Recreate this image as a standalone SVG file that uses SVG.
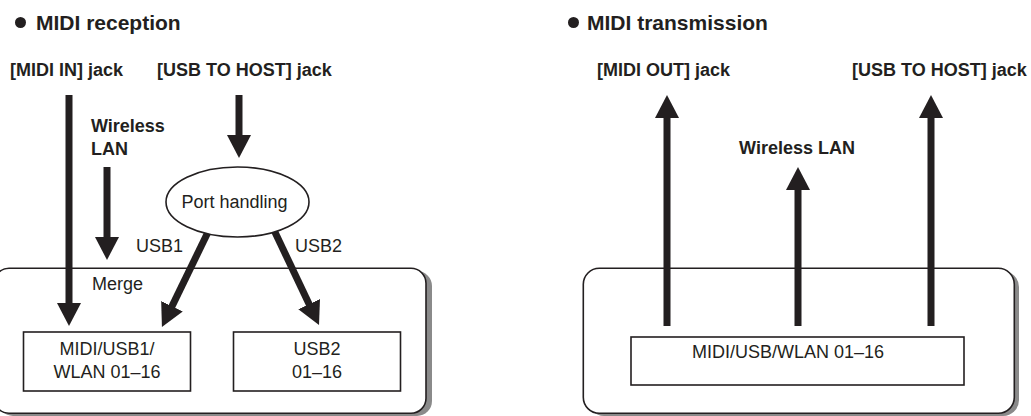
<svg xmlns="http://www.w3.org/2000/svg" width="1031" height="416" viewBox="0 0 1031 416">
<style>
  text { font-family: "Liberation Sans", Arial, sans-serif; fill: #231f20; }
  .title { font-size: 21px; font-weight: bold; }
  .lbl { font-size: 18px; font-weight: bold; }
  .reg { font-size: 18px; }
  .box { fill: #ffffff; stroke: #231f20; stroke-width: 1.6; }
  .shadow { fill: #8a8a8a; stroke: none; }
  .arrow { stroke: #231f20; stroke-width: 7; fill: none; marker-end: url(#head); }
</style>
<defs>
  <marker id="head" markerUnits="userSpaceOnUse" viewBox="0 -12 23 24" markerWidth="23" markerHeight="24" refX="2" refY="0" orient="auto">
    <path d="M0,-12 L23,0 L0,12 z" fill="#231f20"/>
  </marker>
</defs>

<g id="titles">
  <circle cx="20.5" cy="22.5" r="5.5" fill="#231f20"/>
  <text class="title" x="36" y="29.5">MIDI reception</text>
  <circle cx="573.5" cy="22.5" r="5.5" fill="#231f20"/>
  <text class="title" x="587" y="29.5">MIDI transmission</text>
</g>

<g id="reception-frame">
  <rect class="shadow" x="-2" y="271" width="434" height="145" rx="15"/>
  <rect class="box" x="-6" y="268.3" width="432" height="145" rx="15"/>
</g>
<g id="transmission-frame">
  <rect class="shadow" x="588" y="271" width="431" height="145" rx="16"/>
  <rect class="box" x="583.3" y="268.3" width="431" height="145" rx="16"/>
</g>

<g id="labels">
  <text class="lbl" x="10" y="76">[MIDI IN] jack</text>
  <text class="lbl" x="157" y="76">[USB TO HOST] jack</text>
  <text class="lbl" x="91" y="132">Wireless</text>
  <text class="lbl" x="91" y="155">LAN</text>
  <text class="reg" x="136" y="252">USB1</text>
  <text class="reg" x="295" y="252">USB2</text>
  <text class="reg" x="92" y="290">Merge</text>
  <text class="lbl" x="597" y="76">[MIDI OUT] jack</text>
  <text class="lbl" x="852" y="76">[USB TO HOST] jack</text>
  <text class="lbl" x="797" y="154" text-anchor="middle">Wireless LAN</text>
</g>

<g id="connectors">
  <line class="arrow" x1="69" y1="95" x2="69" y2="305"/>
  <line class="arrow" x1="107" y1="167" x2="107" y2="239"/>
  <line class="arrow" x1="239" y1="95" x2="239" y2="137"/>
  <line class="arrow" x1="210" y1="228" x2="171.1" y2="308.1"/>
  <line class="arrow" x1="273" y1="228" x2="310" y2="306"/>
  <line class="arrow" x1="667" y1="326" x2="667" y2="116"/>
  <line class="arrow" x1="798" y1="326" x2="798" y2="188"/>
  <line class="arrow" x1="931" y1="326" x2="931" y2="116"/>
</g>

<g id="port-handling">
  <ellipse class="box" cx="237.5" cy="202" rx="71.5" ry="35"/>
  <text class="reg" x="234.5" y="208" text-anchor="middle">Port handling</text>
</g>

<g id="midi-usb1-wlan">
  <rect class="box" x="23.5" y="332" width="167" height="59"/>
  <text class="reg" x="107" y="355" text-anchor="middle">MIDI/USB1/</text>
  <text class="reg" x="107" y="378" text-anchor="middle">WLAN 01–16</text>
</g>

<g id="usb2">
  <rect class="box" x="233.5" y="332" width="167" height="59"/>
  <text class="reg" x="317" y="355" text-anchor="middle">USB2</text>
  <text class="reg" x="317" y="378" text-anchor="middle">01–16</text>
</g>

<g id="midi-usb-wlan">
  <rect class="box" x="631" y="337" width="333" height="48"/>
  <text class="reg" x="788" y="358" text-anchor="middle">MIDI/USB/WLAN 01–16</text>
</g>
</svg>
